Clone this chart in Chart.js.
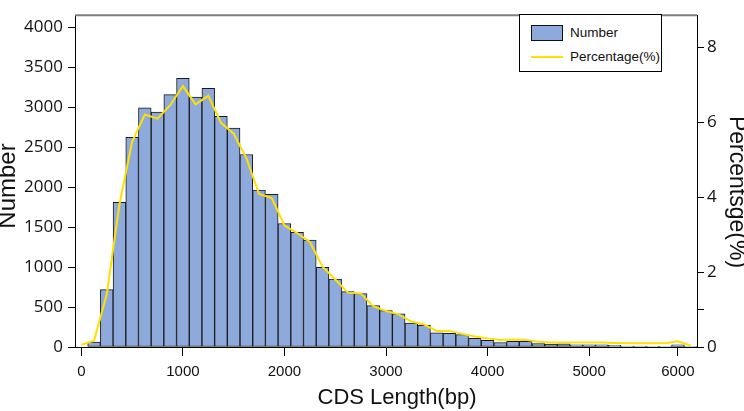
<!DOCTYPE html>
<html>
<head>
<meta charset="utf-8">
<script src="https://cdn.jsdelivr.net/npm/chart.js@4"></script>
<style>
  body{margin:0;background:#fff}
  #wrap{position:relative;width:744px;height:411px}
  #legend{position:absolute;left:519px;top:14px;width:141px;height:56px;border:1px solid #000;background:#fff;font-family:"Liberation Sans",Arial,sans-serif;font-size:13.5px;color:#111}
  #legend .row{position:absolute;left:11px;height:16px;line-height:16px}
  #legend .sw{position:absolute;left:0;top:0;width:30px;height:14px;border:1px solid #111;background:#8eaadc}
  #legend .ln{position:absolute;left:0;top:7px;width:32px;height:2px;background:#ffe000}
  #legend .tx{position:absolute;left:39px;top:0;white-space:nowrap}
</style>
</head>
<body>
<div id="wrap">
  <canvas id="chart" width="744" height="411"></canvas>
  <div id="legend">
    <div class="row" style="top:10px"><span class="sw"></span><span class="tx">Number</span></div>
    <div class="row" style="top:34px"><span class="ln"></span><span class="tx">Percentage(%)</span></div>
  </div>
</div>
<script>
// bin centres (bp), 125 bp wide bins
const categories = [0,125,250,375,500,625,750,875,1000,1125,1250,1375,1500,1625,1750,1875,2000,2125,2250,2375,2500,2625,2750,2875,3000,3125,3250,3375,3500,3625,3750,3875,4000,4125,4250,4375,4500,4625,4750,4875,5000,5125,5250,5375,5500,5625,5750,5875,6000]

const numberValues = [null,60,717,1811,2623,2990,2938,3157,3360,3125,3236,2886,2739,2408,1963,1911,1545,1433,1338,995,848,693,669,518,454,414,299,271,178,170,156,110,84,56,72,72,44,36,40,28,28,28,20,12,12,8,8,28,4]

const percentValues = [0.06,0.17,1.4,3.8,5.47,6.2,6.09,6.45,6.96,6.47,6.7,5.98,5.69,5.04,4.08,3.97,3.24,3.04,2.8,2.14,1.8,1.45,1.43,1.09,0.96,0.87,0.68,0.6,0.43,0.43,0.35,0.28,0.23,0.19,0.2,0.19,0.14,0.12,0.12,0.12,0.12,0.12,0.11,0.1,0.1,0.1,0.1,0.15,0.04]

// x tick labels and the bin index they sit on
const xTickIndex = [0,8,16,24,32,40,47]
const xTickText = ['0','1000','2000','3000','4000','5000','6000']

const yTicks = [0,500,1000,1500,2000,2500,3000,3500,4000]
const y2Ticks = [0,1,2,4,6,8]
const y2TickText = ['0','','2','4','6','8']

const xTitle = 'CDS Length(bp)'
const yTitle = 'Number'
const y2Title = 'Percentsge(%)'

const tickFont = {family:"'Open Sans', sans-serif", size:17}
const titleFamily = "'Liberation Sans', Arial, sans-serif"

const topBorder = {
  id:'topBorder',
  afterDraw(chart){
    const {ctx, chartArea} = chart
    ctx.save()
    ctx.strokeStyle = '#808080'
    ctx.lineWidth = 2
    ctx.beginPath()
    ctx.moveTo(chartArea.left, chartArea.top)
    ctx.lineTo(chartArea.right, chartArea.top)
    ctx.stroke()
    ctx.restore()
  }
}

const drawTitle = (ctx, text, size, x, y, rot)=>{
  ctx.save()
  ctx.font = `${size}px ${titleFamily}`
  ctx.fillStyle = '#111'
  ctx.textAlign = 'center'
  ctx.textBaseline = 'middle'
  ctx.translate(x, y)
  ctx.rotate(rot)
  ctx.fillText(text, 0, 0)
  ctx.restore()
}

// the axis titles in the original are not centred on the plot, so place them by hand
const axisTitles = {
  id:'axisTitles',
  afterDraw(chart){
    const {ctx} = chart
    drawTitle(ctx, xTitle, 22, 397, 398, 0)
    drawTitle(ctx, yTitle, 24, 8, 186, -Math.PI/2)
    drawTitle(ctx, y2Title, 23, 736, 192, Math.PI/2)
  }
}

new Chart('chart', {
  data: {
    labels: categories,
    datasets: [
      {
        type:'line',
        label:'Percentage(%)',
        data: percentValues,
        yAxisID:'y2',
        borderColor:'#ffe000',
        borderWidth:2,
        pointRadius:0,
        tension:0,
        order:0
      },
      {
        type:'bar',
        label:'Number',
        data: numberValues,
        yAxisID:'y',
        backgroundColor:'#8eaadc',
        borderColor:'#1a1a1a',
        borderWidth:1,
        borderSkipped:false,
        barPercentage:1,
        categoryPercentage:1,
        order:1
      }
    ]
  },
  options: {
    responsive:false,
    animation:false,
    layout:{padding:{top:1,left:0,right:0,bottom:0}},
    plugins:{legend:{display:false},tooltip:{enabled:false}},
    scales:{
      x:{
        type:'category',
        offset:true,
        afterFit:(s)=>{ s.height = 64 },
        afterBuildTicks:(s)=>{ s.ticks = xTickIndex.map(v=>({value:v})) },
        grid:{offset:false,drawOnChartArea:false,drawTicks:true,tickLength:9,color:'#000'},
        border:{color:'#000',width:1},
        ticks:{
          autoSkip:false,maxRotation:0,padding:7,color:'#111',
          font:{family:"'Liberation Sans Narrow', 'Arial Narrow', 'Liberation Sans', sans-serif", size:15},
          callback:(value)=> xTickText[xTickIndex.indexOf(value)]
        }
      },
      y:{
        position:'left',
        min:0,max:4150,
        afterFit:(s)=>{ s.width = 75 },
        afterBuildTicks:(s)=>{ s.ticks = yTicks.map(v=>({value:v})) },
        grid:{drawOnChartArea:false,tickLength:7,color:'#000'},
        border:{color:'#000',width:1},
        ticks:{padding:5,color:'#111',font:tickFont,callback:(value)=> String(value)}
      },
      y2:{
        position:'right',
        min:0,max:8.85,
        afterFit:(s)=>{ s.width = 47 },
        afterBuildTicks:(s)=>{ s.ticks = y2Ticks.map(v=>({value:v})) },
        grid:{drawOnChartArea:false,tickLength:7,color:'#000'},
        border:{color:'#000',width:1},
        ticks:{padding:3,color:'#111',font:tickFont,callback:(value)=> y2TickText[y2Ticks.indexOf(value)]}
      }
    }
  },
  plugins:[topBorder, axisTitles]
})
</script>
</body>
</html>
